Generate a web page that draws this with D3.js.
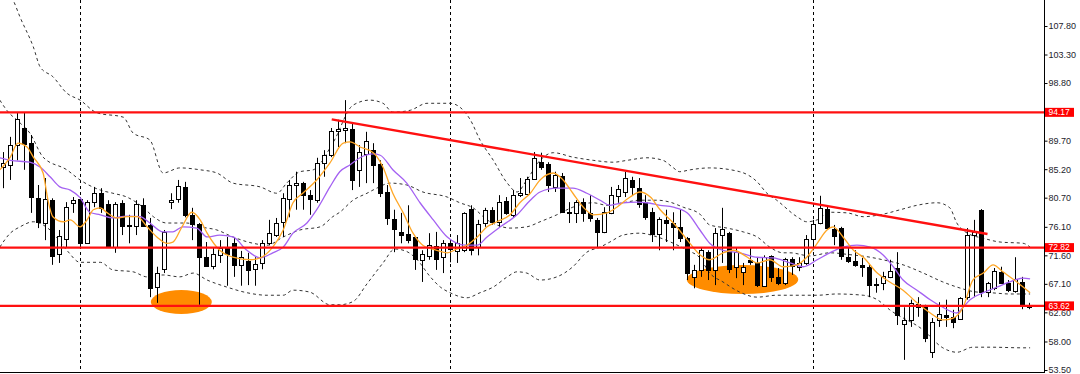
<!DOCTYPE html>
<html>
<head>
<meta charset="utf-8">
<script src="https://cdn.jsdelivr.net/npm/d3@7"></script>
<style>
  html, body { margin: 0; padding: 0; background: #fff; }
  svg { display: block; font-family: "Liberation Sans", Arial, sans-serif; }
</style>
</head>
<body>
<svg id="chart" width="1080" height="374"></svg>
<script>
// bars as [open, high, low, close]
const candles = [
  [85.5,87.9,82.2,86.2],[85.9,90.3,83.5,89.0],[89.0,94.1,86.6,93.1],[91.7,94.1,85.1,89.2],
  [89.3,90.6,78.3,80.8],[80.6,82.7,75.9,76.9],[76.7,83.8,74.0,80.5],[80.3,80.6,70.1,71.5],
  [71.8,75.6,70.4,74.6],[74.2,80.0,72.9,79.2],[79.9,80.8,78.3,80.3],[80.5,80.8,72.9,73.5],
  [73.5,80.3,73.5,80.0],[80.0,82.4,79.2,81.4],[81.4,82.2,78.3,79.1],[79.7,80.3,72.8,72.9],
  [72.9,80.0,72.0,79.7],[79.9,80.3,74.8,76.2],[76.4,78.0,73.5,76.2],[76.2,80.3,74.8,79.7],
  [79.5,80.6,76.1,76.2],[76.4,77.5,65.0,66.4],[66.6,69.8,64.1,68.8],[69.4,75.6,68.8,75.3],
  [80.0,81.4,78.9,80.3],[80.5,83.5,79.9,82.5],[82.4,83.2,77.6,78.0],[78.0,79.1,74.0,76.5],
  [76.5,76.7,63.8,71.3],[71.3,73.7,69.8,69.9],[69.9,72.9,69.4,71.8],[71.6,74.0,70.4,72.8],
  [72.8,74.5,66.8,71.8],[73.5,74.5,68.2,70.1],[70.1,72.3,66.8,71.3],[70.7,72.0,66.9,69.3],
  [69.4,71.3,66.8,70.2],[70.4,74.0,69.4,73.5],[73.5,77.2,73.2,75.1],[74.8,77.5,74.5,76.7],
  [76.9,81.4,74.5,80.6],[80.5,83.5,77.6,82.7],[82.7,84.8,78.8,83.0],[83.0,83.2,78.8,81.1],
  [81.1,81.9,78.0,80.5],[80.3,87.0,79.9,86.2],[86.2,88.2,84.0,87.4],[87.4,91.7,87.1,91.2],
  [91.2,93.0,88.7,91.5],[91.4,96.1,89.3,91.7],[91.5,92.5,81.9,83.5],[85.1,89.0,82.4,87.9],
  [87.6,91.1,83.0,89.6],[88.2,89.3,83.0,85.9],[86.0,86.6,80.8,81.4],[81.6,82.7,76.4,77.5],
  [77.3,78.8,72.1,75.8],[75.3,78.3,73.5,74.8],[75.0,79.5,73.5,74.0],[74.5,74.5,69.3,71.0],
  [70.9,72.4,67.4,71.8],[71.5,75.1,70.9,73.2],[73.1,75.3,69.3,71.0],[71.3,74.0,68.8,73.5],
  [73.5,74.0,70.5,72.6],[72.3,74.8,70.4,73.5],[72.4,78.4,72.1,78.3],[78.9,79.5,71.6,72.4],
  [72.9,77.2,71.6,76.5],[76.7,79.1,76.1,78.8],[78.8,79.2,76.4,76.9],[76.9,81.1,76.1,80.0],
  [80.2,80.8,78.0,78.3],[78.0,81.9,77.5,81.1],[81.1,83.8,80.8,81.4],[81.3,84.0,81.1,83.6],
  [83.6,87.9,83.5,87.0],[86.3,87.8,85.1,85.5],[86.0,86.3,81.6,82.7],[82.4,84.8,81.6,84.3],
  [84.1,84.6,78.3,78.4],[78.3,80.0,76.7,78.4],[78.3,80.3,76.7,80.0],[80.0,80.6,76.9,78.3],
  [78.3,81.1,76.9,77.5],[77.2,77.5,72.8,75.3],[75.3,79.2,75.1,78.4],[78.3,82.4,78.1,81.1],
  [81.0,82.7,79.9,82.1],[81.6,84.8,80.8,83.8],[83.5,84.0,81.1,82.4],[82.2,83.8,79.1,79.7],
  [80.0,81.1,77.2,77.6],[78.4,79.1,73.7,75.0],[75.0,77.6,72.4,77.3],[77.2,78.8,73.7,76.7],
  [76.7,78.4,72.4,76.1],[76.1,78.8,73.7,74.3],[74.3,74.5,67.7,68.8],[68.2,70.1,66.4,69.3],
  [69.3,72.9,68.2,72.4],[72.1,72.4,67.7,69.3],[69.3,75.9,66.9,75.1],[74.8,79.1,70.4,75.8],
  [75.1,75.3,68.8,69.4],[69.8,72.8,68.0,72.1],[69.0,70.4,66.9,69.8],[70.9,72.9,70.1,70.5],
  [70.4,71.3,66.6,66.9],[66.8,71.6,66.6,71.3],[71.5,71.6,67.4,68.2],[68.2,69.6,66.9,67.2],
  [67.2,71.2,66.9,71.0],[71.0,71.3,68.5,69.9],[69.8,71.3,69.1,70.4],[70.4,74.8,70.1,74.2],
  [74.2,77.2,72.4,76.5],[76.7,81.0,76.5,79.1],[78.9,79.5,75.6,75.9],[75.8,76.4,73.2,74.6],
  [75.9,76.1,70.9,71.5],[71.3,72.9,70.4,70.7],[70.7,72.4,69.8,70.1],[70.1,71.2,68.2,69.8],
  [69.8,70.1,65.0,66.9],[66.9,68.0,65.7,67.1],[67.2,69.0,66.1,68.3],[68.2,70.9,68.0,69.1],
  [69.6,72.1,60.6,62.2],[60.8,63.4,55.1,61.4],[61.4,64.6,60.3,64.1],[63.9,65.0,61.9,63.4],
  [63.4,63.8,57.9,58.6],[56.3,61.7,55.4,61.1],[61.4,64.2,60.3,62.3],[62.2,64.6,60.3,61.9],
  [61.9,63.0,60.1,61.1],[61.5,65.0,61.4,64.9],[65.0,75.9,64.6,74.8],[74.8,77.2,65.0,75.3],
  [78.8,78.9,65.0,65.8],[65.8,67.4,65.0,67.2],[66.4,69.6,66.1,69.1],[69.0,69.8,67.1,67.2],
  [67.2,67.7,65.8,66.1],[66.0,71.3,65.7,67.9],[67.4,68.2,63.1,63.8],[63.8,64.1,63.1,63.4]
];

// bollinger bands, [bar index, price]
const bbUpper = [
  [-0.5,114.5],[1.4,111.9],[2.4,109.2],[4.3,104.5],[5.3,101.3],[7.1,99.8],[9.1,97.2],[11.0,96.1],
  [13.4,94.1],[17.2,93.4],[18.6,90.9],[21.0,89.8],[22.9,84.6],[25.3,85.4],[28.2,85.1],[30.6,84.6],
  [32.9,83.0],[36.8,82.4],[39.2,81.4],[40.6,83.0],[42.5,84.8],[44.4,85.1],[47.2,89.3],[50.1,95.3],
  [52.5,96.1],[54.4,95.6],[55.8,94.2],[58.3,94.5],[60.7,95.6],[64.0,95.6],[65.4,95.0],[66.9,93.0],
  [68.3,89.8],[70.2,86.6],[72.2,83.0],[73.6,81.6],[75.0,83.5],[76.9,86.6],[78.8,87.8],[81.6,87.1],
  [84.5,86.6],[87.4,86.3],[89.4,86.6],[92.2,87.0],[94.5,86.6],[95.9,85.5],[96.9,84.8],[98.4,85.1],
  [101.2,85.4],[105.5,84.8],[108.0,83.2],[109.4,81.4],[110.8,80.3],[113.7,77.7],[115.1,76.9],
  [116.6,77.2],[118.4,78.4],[120.9,78.3],[123.2,77.7],[125.6,78.0],[128.5,78.8],[130.9,79.5],
  [133.8,79.9],[135.6,79.1],[136.6,76.7],[138.1,75.1],[140.4,74.3],[142.8,73.7],[146.1,73.5],[147.1,72.9]
];
const bbMiddle = [
  [-0.5,96.1],[0.5,94.5],[2.4,92.5],[3.8,90.9],[5.7,87.1],[9.1,85.1],[11.0,83.5],[13.9,81.9],
  [15.7,81.4],[17.7,80.8],[20.0,79.2],[21.5,77.7],[23.4,76.7],[26.3,76.7],[28.2,76.1],[30.6,75.6],
  [32.9,74.5],[35.8,73.5],[37.8,73.2],[40.1,74.5],[42.5,75.6],[45.4,76.1],[47.2,77.7],[48.2,78.4],
  [50.1,80.3],[52.1,81.4],[53.5,82.2],[55.4,83.0],[57.8,82.7],[60.1,81.6],[63.6,80.8],[65.4,79.9],
  [67.3,79.1],[69.3,77.2],[70.7,76.4],[72.6,75.9],[75.0,76.1],[76.9,76.9],[79.3,78.0],[81.6,79.2],
  [84.5,79.9],[86.5,79.5],[88.8,79.9],[91.2,80.3],[93.7,80.3],[95.5,80.0],[97.4,79.2],[99.8,78.1],
  [101.2,76.4],[103.7,75.9],[106.0,75.3],[108.0,74.5],[109.8,72.9],[111.7,72.0],[112.7,72.0],
  [115.6,71.5],[118.4,72.0],[121.3,71.7],[124.2,71.3],[126.0,70.9],[128.9,70.1],[131.8,68.8],
  [134.6,67.4],[136.6,66.6],[139.5,65.8],[141.4,65.7],[144.2,65.5],[147.1,65.5]
];
const bbLower = [
  [-0.5,72.9],[1.0,75.1],[2.4,76.1],[4.3,76.9],[6.7,75.6],[9.1,72.4],[11.0,70.5],[13.9,70.5],
  [15.7,69.3],[18.6,69.0],[20.6,68.2],[22.9,68.5],[25.3,68.2],[27.2,68.8],[29.2,67.7],[32.0,66.6],
  [34.9,65.7],[37.8,65.3],[40.1,65.3],[41.5,66.1],[43.9,65.8],[46.8,63.8],[48.2,63.8],[50.1,64.3],
  [52.1,67.1],[54.4,70.4],[56.1,72.6],[57.6,72.3],[59.3,70.9],[61.1,68.3],[62.6,66.6],[64.0,65.7],
  [66.4,64.9],[68.3,65.7],[70.2,66.6],[72.2,68.2],[73.6,69.0],[75.0,68.8],[76.9,67.7],[79.3,68.2],
  [81.6,69.8],[83.6,72.1],[85.5,72.9],[86.9,73.7],[88.8,74.8],[91.2,75.1],[93.7,74.5],[96.0,73.5],
  [98.0,72.4],[99.8,71.2],[101.2,68.8],[103.1,67.4],[105.5,65.8],[108.0,65.0],[110.8,65.3],
  [116.6,65.3],[119.4,65.5],[123.2,65.3],[125.2,64.6],[127.0,63.0],[131.8,59.8],[134.6,57.0],
  [136.6,56.3],[138.9,57.1],[141.4,57.1],[146.1,57.0],[147.1,57.0]
];

// fast (orange) and slow (purple) moving averages, [bar index, price]
const maFast = [
  [-0.5,85.1],[1.0,87.1],[2.1,89.3],[3.4,88.7],[4.3,87.1],[5.7,84.6],[6.4,80.3],[7.1,77.7],
  [8.6,76.9],[9.6,77.2],[11.0,76.1],[12.0,77.2],[12.9,78.8],[13.9,79.1],[14.9,78.3],[16.3,77.5],
  [17.7,77.7],[19.2,77.7],[20.6,76.1],[22.0,74.5],[23.4,73.5],[24.3,73.7],[25.6,76.1],[27.0,78.4],
  [28.2,77.2],[29.2,75.1],[31.0,72.4],[32.9,71.3],[35.4,70.9],[36.8,71.2],[38.6,72.9],[40.1,75.6],
  [41.5,79.9],[42.9,81.4],[44.9,83.5],[46.8,86.2],[48.7,89.3],[49.7,89.5],[51.1,88.7],[53.0,87.8],
  [54.4,85.5],[55.8,81.4],[57.3,78.3],[58.7,75.1],[60.1,73.2],[62.1,72.4],[63.6,72.0],[65.0,72.6],
  [66.4,73.2],[67.9,74.5],[69.3,76.1],[70.7,76.9],[72.6,78.0],[74.0,79.9],[75.5,81.4],[76.9,83.5],
  [78.8,84.6],[80.2,83.5],[81.6,81.4],[83.1,79.2],[84.5,78.0],[86.5,78.3],[87.9,79.2],[89.8,80.8],
  [91.2,81.6],[92.7,80.8],[94.1,78.8],[96.0,76.7],[98.0,74.0],[99.8,71.7],[101.2,70.9],[103.1,72.0],
  [104.6,72.4],[106.6,71.3],[108.0,70.4],[109.8,70.9],[111.7,69.8],[113.7,70.1],[115.1,71.3],
  [116.6,73.5],[118.0,75.6],[118.9,76.1],[120.3,74.5],[121.8,72.4],[123.2,71.3],[125.2,68.8],
  [127.0,67.4],[128.9,66.1],[130.9,64.1],[132.8,62.5],[134.6,61.4],[136.1,61.7],[137.5,63.4],
  [138.9,67.7],[140.4,68.8],[141.8,70.1],[143.2,69.0],[145.2,67.4],[147.1,65.7]
];
const maSlow = [
  [-0.5,87.0],[1.0,86.6],[3.8,86.3],[5.3,85.5],[6.7,84.0],[8.1,82.4],[9.6,81.9],[11.0,80.7],
  [12.4,78.4],[13.9,78.0],[15.7,77.5],[17.7,77.8],[19.6,77.7],[21.0,76.7],[22.9,75.3],[24.3,75.3],
  [25.7,76.1],[27.7,75.9],[29.2,74.5],[31.0,74.8],[32.9,74.5],[34.9,72.4],[36.8,71.2],[38.6,72.0],
  [40.1,72.9],[41.5,75.1],[43.5,76.7],[44.9,78.8],[46.8,82.4],[48.2,84.8],[49.7,85.9],[51.1,87.0],
  [53.0,87.6],[54.0,87.4],[55.8,85.1],[57.8,83.0],[59.7,79.9],[61.6,77.2],[63.6,74.5],[65.0,73.5],
  [66.4,73.2],[67.9,73.2],[69.3,74.5],[71.2,76.1],[73.6,78.0],[75.5,80.3],[76.9,81.6],[79.3,82.2],
  [81.6,82.2],[83.6,81.4],[85.5,80.3],[86.9,79.5],[88.8,79.9],[90.8,80.0],[92.2,79.9],[94.1,79.5],
  [96.0,79.2],[98.0,78.3],[99.8,75.6],[101.2,73.5],[103.1,72.4],[105.5,72.0],[108.0,71.3],
  [110.3,71.2],[112.7,70.4],[114.6,69.8],[116.6,70.9],[118.4,72.0],[120.3,72.9],[122.3,73.2],
  [124.2,72.9],[126.0,71.7],[127.5,69.8],[128.9,67.7],[130.9,66.1],[132.8,64.6],[134.6,63.4],
  [136.6,62.5],[137.5,63.4],[138.5,64.6],[140.4,65.7],[142.4,66.6],[144.2,67.4],[146.1,68.0],[147.1,67.9]
];

// annotations
const priceTicks = [107.8, 103.3, 98.8, 89.7, 85.2, 80.7, 76.1, 71.6, 67.1, 62.6, 58.0, 53.5];
const levels = [94.17, 72.82, 63.62];
const sessionBreaks = [11, 64, 116];
const trendLine = [[47.05, 93.07], [141.0, 74.96]];
// zones: centre bar, centre price, half-width in bars, half-height in price
const zones = [[25.5, 64.23, 4.37, 1.89], [105.9, 67.78, 7.98, 2.29]];

const svg = d3.select('#chart');
const axisX = 1044.5;
const bottomY = 372.5;

const x = d3.scaleLinear().domain([0, candles.length - 1]).range([3.3, 1029.4]);
const y = d3.scaleLinear().domain([53.5, 107.8]).range([370, 26]);
const px = v => Math.round(v) + 0.5;

svg.append('defs').append('clipPath').attr('id', 'plot')
  .append('rect').attr('x', 0).attr('y', 0).attr('width', 1044).attr('height', 372);

const plot = svg.append('g').attr('clip-path', 'url(#plot)');

// orange zones sit under the bars
plot.append('g').selectAll('ellipse').data(zones).join('ellipse')
  .attr('cx', d => x(d[0]))
  .attr('cy', d => y(d[1]))
  .attr('rx', d => x(d[0] + d[2]) - x(d[0]))
  .attr('ry', d => y(d[1] - d[3]) - y(d[1]))
  .attr('fill', '#ff8c00');

// session separators
plot.append('g').selectAll('line').data(sessionBreaks).join('line')
  .attr('x1', d => px(x(d))).attr('x2', d => px(x(d)))
  .attr('y1', 0).attr('y2', 373)
  .attr('stroke', '#000').attr('stroke-width', 1).attr('stroke-dasharray', '3,3');

const line = d3.line().x(d => x(d[0])).y(d => y(d[1])).curve(d3.curveMonotoneX);

// bollinger bands, dotted
plot.append('g').selectAll('path').data([bbUpper, bbMiddle, bbLower]).join('path')
  .attr('d', line)
  .attr('fill', 'none')
  .attr('stroke', '#333')
  .attr('stroke-width', 1)
  .attr('stroke-dasharray', '3,3');

// candles
const bars = plot.append('g');
candles.forEach(([o, h, l, c], i) => {
  const cx = px(x(i));
  bars.append('line')
    .attr('x1', cx).attr('x2', cx)
    .attr('y1', y(h)).attr('y2', y(l))
    .attr('stroke', '#000').attr('stroke-width', 1);
  const top = px(y(Math.max(o, c)));
  const bot = px(y(Math.min(o, c)));
  bars.append('rect')
    .attr('x', cx - 2).attr('width', 4)
    .attr('y', top).attr('height', Math.max(bot - top, 1))
    .attr('fill', c >= o ? '#fff' : '#000')
    .attr('stroke', '#000').attr('stroke-width', 1);
});

// moving averages
plot.append('path').datum(maSlow).attr('d', line)
  .attr('fill', 'none').attr('stroke', '#a461f2').attr('stroke-width', 1.3);
plot.append('path').datum(maFast).attr('d', line)
  .attr('fill', 'none').attr('stroke', '#ffa726').attr('stroke-width', 1.3);

// horizontal levels
plot.append('g').selectAll('line').data(levels).join('line')
  .attr('x1', 0).attr('x2', 1044)
  .attr('y1', d => y(d)).attr('y2', d => y(d))
  .attr('stroke', '#ff1010').attr('stroke-width', 2.2);

// falling trend line
plot.append('line')
  .attr('x1', x(trendLine[0][0])).attr('y1', y(trendLine[0][1]))
  .attr('x2', x(trendLine[1][0])).attr('y2', y(trendLine[1][1]))
  .attr('stroke', '#ff1010').attr('stroke-width', 2.4);

// frame
svg.append('line').attr('x1', axisX).attr('x2', axisX).attr('y1', 0).attr('y2', 373)
  .attr('stroke', '#000');
svg.append('line').attr('x1', 0).attr('x2', axisX).attr('y1', bottomY).attr('y2', bottomY)
  .attr('stroke', '#000');

// price axis
const axis = d3.axisRight(y)
  .tickValues(priceTicks)
  .tickSize(3)
  .tickPadding(1)
  .tickFormat(d3.format('.2f'));
svg.append('g')
  .attr('transform', `translate(${axisX},0)`)
  .call(axis)
  .call(g => g.select('.domain').remove())
  .attr('font-size', 9)
  .attr('font-family', '"Liberation Sans", Arial, sans-serif')
  .call(g => g.selectAll('text').attr('fill', '#1c1c2c'));

// level price tags
const tags = svg.append('g');
levels.forEach(v => {
  tags.append('rect')
    .attr('x', axisX + 0.5).attr('y', y(v) - 4.5)
    .attr('width', 29).attr('height', 9)
    .attr('fill', '#ff0000');
  tags.append('text')
    .attr('x', axisX + 4).attr('y', y(v)).attr('dy', '0.34em')
    .attr('font-size', 8.5).attr('fill', '#fff')
    .text(d3.format('.2f')(v));
});
</script>
</body>
</html>
